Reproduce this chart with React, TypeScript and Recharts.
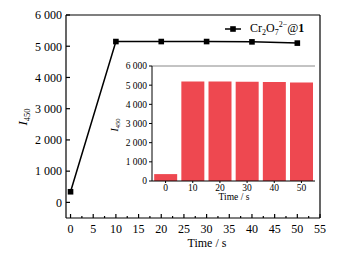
import React from 'react';
import { LineChart, Line, XAxis, YAxis, ReferenceLine, BarChart, Bar } from 'recharts';

const FONT = 'Liberation Serif';

// Main chart data
const times = [0, 10, 20, 30, 40, 50];
const intensity = [340, 5150, 5150, 5150, 5140, 5100];

// Inset bar data
const insetCategories = ['0', '10', '20', '30', '40', '50'];
const insetValues = [360, 5190, 5190, 5180, 5170, 5140];

const mainYTicks = [0, 1000, 2000, 3000, 4000, 5000, 6000];
const mainXTicks = [0, 2.5, 5, 7.5, 10, 12.5, 15, 17.5, 20, 22.5, 25, 27.5, 30, 32.5, 35, 37.5, 40, 42.5, 45, 47.5, 50, 52.5, 55];
const insetYTicks = [0, 1000, 2000, 3000, 4000, 5000, 6000];

const mainData = times.map((t, i) => ({ t, v: intensity[i] }));
const insetData = insetCategories.map((c, i) => ({ t: c, v: insetValues[i] }));

const fmt = (v: number) => {
  const s = String(v);
  if (s.length > 3) return s.slice(0, s.length - 3) + ' ' + s.slice(s.length - 3);
  return s;
};

const MainYTick = (props: any) => {
  const { x, y, payload } = props;
  return (
    <g>
      <line x1={x + 4} x2={x + 8} y1={y} y2={y} stroke="#000" strokeWidth={1.2} />
      <text x={x} y={y} dy="0.36em" textAnchor="end" fontSize={12} fill="#000" fontFamily={FONT}>
        {fmt(payload.value)}
      </text>
    </g>
  );
};

const MainXTick = (props: any) => {
  const { x, y, payload } = props;
  const v = payload.value as number;
  const major = v % 5 === 0;
  const axisY = y - 11;
  return (
    <g>
      <line x1={x} x2={x} y1={axisY} y2={axisY - (major ? 4 : 2)} stroke="#000" strokeWidth={1.2} />
      {major && (
        <text x={x} y={y} dy="0.36em" textAnchor="middle" fontSize={12} fill="#000" fontFamily={FONT}>
          {v}
        </text>
      )}
    </g>
  );
};

const Square = (props: any) => {
  const { cx, cy } = props;
  if (cx == null || cy == null) return null;
  return <rect x={cx - 2.8} y={cy - 2.8} width={5.6} height={5.6} fill="#000" />;
};

const MainYLabel = () => (
  <text transform="rotate(-90, 27, 117)" x={27} y={117} textAnchor="middle" fontSize={13} fill="#000" fontFamily={FONT}>
    <tspan fontStyle="italic">I</tspan>
    <tspan fontSize={8.5} dy={3}>450</tspan>
  </text>
);

const MainXLabel = () => (
  <text x={207} y={247} textAnchor="middle" fontSize={12} fill="#000" fontFamily={FONT}>
    Time / s
  </text>
);

const InsetYLabel = () => (
  <text transform="rotate(-90, 8, 70)" x={8} y={70} textAnchor="middle" fontSize={9.5} fill="#000" fontFamily={FONT}>
    <tspan fontStyle="italic">I</tspan>
    <tspan fontSize={6.5} dy={2}>450</tspan>
  </text>
);

const InsetXLabel = () => (
  <text x={124} y={145} textAnchor="middle" fontSize={9.5} fill="#000" fontFamily={FONT}>
    Time / s
  </text>
);

export default function App() {
  return (
    <div style={{ position: 'absolute', left: 0, top: 0, width: 351, height: 255, background: '#fff', fontFamily: FONT }}>
      <div style={{ position: 'absolute', left: 0, top: 0 }}>
        <LineChart width={351} height={255} data={mainData} margin={{ top: 15, right: 31, left: 0, bottom: 0 }}>
          <XAxis
            dataKey="t"
            type="number"
            domain={[-1, 55]}
            ticks={mainXTicks}
            interval={0}
            tickSize={0}
            tickMargin={11}
            height={37}
            stroke="#000"
            strokeWidth={1.2}
            tick={<MainXTick />}
            label={<MainXLabel />}
          />
          <YAxis
            type="number"
            domain={[-500, 6000]}
            ticks={mainYTicks}
            interval={0}
            tickSize={0}
            tickMargin={4}
            width={66}
            stroke="#000"
            strokeWidth={1.2}
            tick={<MainYTick />}
            label={<MainYLabel />}
          />
          <ReferenceLine y={6000} stroke="#000" strokeWidth={1.2} />
          <ReferenceLine x={55} stroke="#000" strokeWidth={1.2} />
          <Line
            type="linear"
            dataKey="v"
            stroke="#000"
            strokeWidth={1.5}
            dot={<Square />}
            isAnimationActive={false}
          />
        </LineChart>
      </div>

      <div
        style={{
          position: 'absolute',
          left: 223,
          top: 20,
          display: 'flex',
          alignItems: 'center',
          fontFamily: FONT,
          fontSize: 12,
          lineHeight: '16px',
          color: '#000',
          whiteSpace: 'nowrap',
        }}
      >
        <svg width={20} height={16}>
          <line x1={2} x2={18} y1={9} y2={9} stroke="#000" strokeWidth={1.5} />
          <rect x={7.2} y={6.2} width={5.6} height={5.6} fill="#000" />
        </svg>
        <span style={{ marginLeft: 7 }}>
          Cr<sub style={{ fontSize: 8, verticalAlign: '-3px', lineHeight: 0 }}>2</sub>O
          <sub style={{ fontSize: 8, verticalAlign: '-3px', lineHeight: 0 }}>7</sub>
          <sup style={{ fontSize: 8, verticalAlign: '5px', lineHeight: 0 }}>2−</sup>@<b>1</b>
        </span>
      </div>

      <div style={{ position: 'absolute', left: 110, top: 55 }}>
        <BarChart width={215} height={150} data={insetData} margin={{ top: 11, right: 10, left: 0, bottom: 0 }} barCategoryGap="8%">
          <XAxis
            dataKey="t"
            height={24}
            tickSize={2}
            tickMargin={1}
            stroke="#000"
            strokeWidth={1}
            tick={{ fill: '#000', fontSize: 9.5, fontFamily: FONT }}
            interval={0}
            label={<InsetXLabel />}
          />
          <YAxis
            domain={[0, 6000]}
            ticks={insetYTicks}
            interval={0}
            width={42}
            tickSize={3}
            tickMargin={2}
            stroke="#000"
            strokeWidth={1}
            tick={{ fill: '#000', fontSize: 9.5, fontFamily: FONT }}
            tickFormatter={fmt}
            label={<InsetYLabel />}
          />
          <YAxis
            yAxisId="r"
            orientation="right"
            domain={[0, 6000]}
            width={0}
            tick={false}
            tickLine={false}
            stroke="#888"
            strokeWidth={1}
          />
          <ReferenceLine y={6000} stroke="#888" strokeWidth={1} />
          <Bar dataKey="v" fill="#EE4850" isAnimationActive={false} />
        </BarChart>
      </div>
    </div>
  );
}
